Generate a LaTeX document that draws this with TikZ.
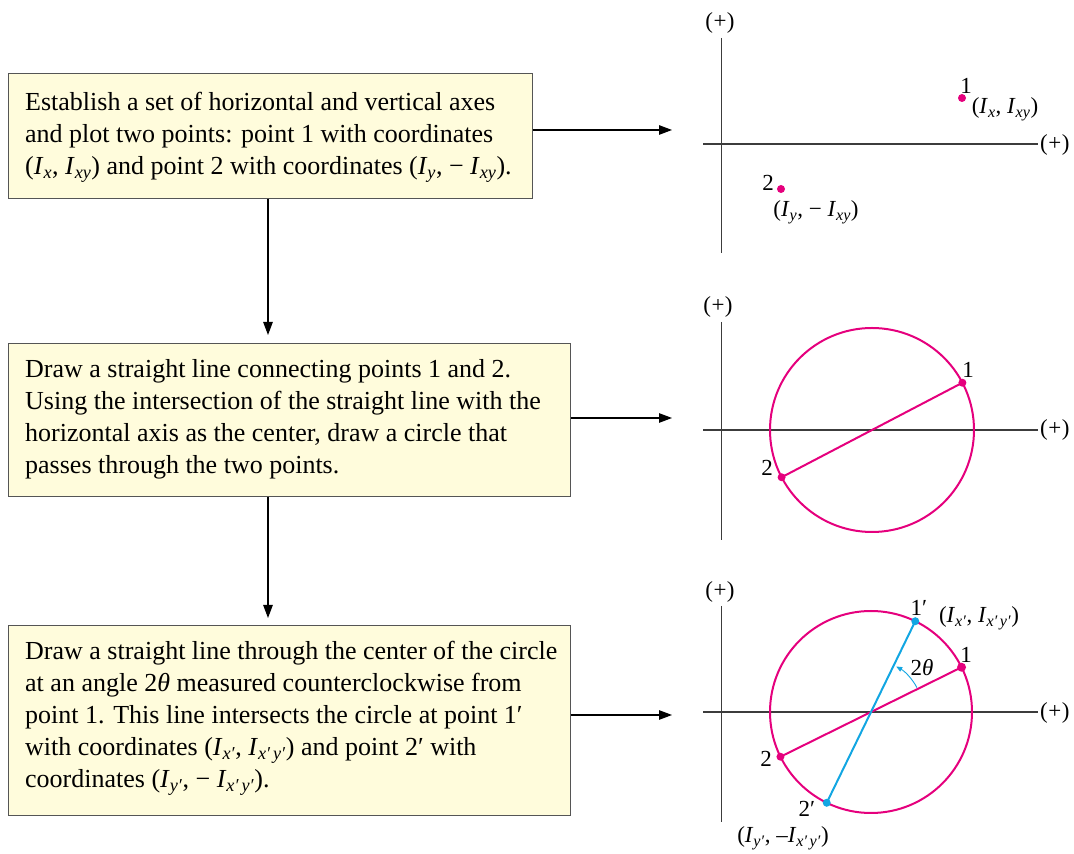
\documentclass[tikz,border=0pt]{standalone}
\usepackage{fontspec}
\setmainfont{Liberation Serif}
\usetikzlibrary{arrows.meta,calc}
\definecolor{mag}{HTML}{E5007D}
\definecolor{cya}{HTML}{12A6E2}
\definecolor{boxfill}{HTML}{FFFCDC}
\definecolor{boxline}{HTML}{555555}
\definecolor{axis}{HTML}{3C3C3C}
\newcommand{\It}{\textit{I}}
\newcommand{\sub}[1]{\textsubscript{\textit{#1}}}
\newcommand{\plus}{(\kern0.5pt+\kern0.5pt)}
\tikzset{
  stepbox/.style={draw=boxline, line width=1pt, fill=boxfill, anchor=north west,
    inner sep=0pt},
  arr/.style={line width=1.1pt, -{Triangle[length=13pt,width=9.5pt]}},
  ax/.style={draw=axis, line width=1.4pt},
  lbl/.style={font=\fontsize{23}{26}\selectfont, inner sep=0pt},
  body/.style={anchor=west, inner sep=0pt, align=left, font=\fontsize{26}{32}\selectfont},
  dot/.style={circle, fill=#1, inner sep=0pt, minimum size=8pt},
  curve/.style={draw=#1, line width=2pt},
}
\begin{document}
\begin{tikzpicture}[x=1pt,y=1pt]
\useasboundingbox (0,0) rectangle (1074,854);
% boxes
\node[stepbox, minimum width=524pt, minimum height=125pt] (b1) at (8,781) {};
\node[body] (t1) at (25,717)
 {Establish a set of horizontal and vertical axes\\
  and plot two points: point 1 with coordinates\\
  (\It\sub{x}, \It\sub{xy}) and point 2 with coordinates (\It\sub{y}, − \It\sub{xy}).};
\node[stepbox, minimum width=562pt, minimum height=153pt] (b2) at (8,511) {};
\node[body] (t2) at (25,435)
 {Draw a straight line connecting points 1 and 2.\\
  Using the intersection of the straight line with the\\
  horizontal axis as the center, draw a circle that\\
  passes through the two points.};
\node[stepbox, minimum width=562pt, minimum height=190pt] (b3) at (8,229) {};
\node[body] (t3) at (25,136)
 {Draw a straight line through the center of the circle\\
  at an angle 2\textit{θ} measured counterclockwise from\\
  point 1. This line intersects the circle at point 1′\\
  with coordinates (\It\sub{x′}, \It\sub{x′\,y′}) and point 2′ with\\
  coordinates (\It\sub{y′}, − \It\sub{x′\,y′}).};
% connectors
\coordinate (a1) at (672,724);
\coordinate (a2) at (672,436);
\coordinate (a3) at (672,139);
\coordinate (v) at (268,0);
\draw[arr] (b1.east |- a1) -- (a1);
\draw[arr] (b2.east |- a2) -- (a2);
\draw[arr] (b3.east |- a3) -- (a3);
\draw[arr, shorten >=8pt] (b1.south -| v) -- (b2.north -| v);
\draw[arr, shorten >=7pt] (b2.south -| v) -- (b3.north -| v);
% ---- plot 1
\draw[ax] (721.5,816) -- (721.5,601);
\draw[ax] (703,710) -- (1038,710);
\node[lbl] (p1t) at (720,831) {\plus};
\node[lbl, anchor=west] (p1r) at (1040,709) {\plus};
\node[dot=mag] (q1) at (962,756) {};
\node[dot=mag] (q2) at (781,665) {};
\node[lbl] (q1n) at (966,768) {1};
\node[lbl] (q1c) at (1005,745) {(\It\sub{x}, \It\sub{xy})};
\node[lbl] (q2n) at (768,671) {2};
\node[lbl] (q2c) at (816,642) {(\It\sub{y}, − \It\sub{xy})};
% ---- plot 2
\draw[ax] (721.5,532) -- (721.5,314);
\draw[ax] (703,424) -- (1038,424);
\node[lbl] (p2t) at (718,547) {\plus};
\node[lbl, anchor=west] (p2r) at (1040,424) {\plus};
\coordinate (c2) at (872,424);
\draw[curve=mag] (c2) circle[radius=102];
\node[dot=mag] (r1) at ($(c2)+(27.6:102)$) {};
\node[dot=mag] (r2) at ($(c2)+(207.6:102)$) {};
\draw[curve=mag] (r1.center) -- (r2.center);
\node[lbl] (r1n) at (968,484) {1};
\node[lbl] (r2n) at (767,386) {2};
% ---- plot 3
\draw[ax] (721.5,248) -- (721.5,32);
\draw[ax] (703,142) -- (1038,142);
\node[lbl] (p3t) at (720,262) {\plus};
\node[lbl, anchor=west] (p3r) at (1040,141) {\plus};
\coordinate (c3) at (871,142);
\draw[curve=mag] (c3) circle[radius=101];
\node[dot=mag, minimum size=9pt] (s1) at ($(c3)+(26.3:101)$) {};
\node[dot=mag] (s2) at ($(c3)+(206.3:101)$) {};
\draw[curve=mag] (s1.center) -- (s2.center);
\node[dot=cya] (u1) at ($(c3)+(64:101)$) {};
\node[dot=cya] (u2) at ($(c3)+(244:101)$) {};
\draw[curve=cya] (u1.center) -- (u2.center);
\draw[cya, line width=0.9pt, -{Triangle[length=6pt,width=5pt]}] ($(c3)+(28:52)$) arc[start angle=28, end angle=61, radius=52];
\node[lbl] (ang) at (922,186) {2\textit{θ}};
\node[lbl] (u1n) at (919,246) {1′};
\node[lbl] (u1c) at (979,236) {(\It\sub{x′}, \It\sub{x′\,y′})};
\node[lbl] (s1n) at (966,199) {1};
\node[lbl] (s2n) at (766,95) {2};
\node[lbl] (u2n) at (807,45) {2′};
\node[lbl] (u2c) at (783,16) {(\It\sub{y′}, –\It\sub{x′\,y′})};
\end{tikzpicture}
\end{document}
